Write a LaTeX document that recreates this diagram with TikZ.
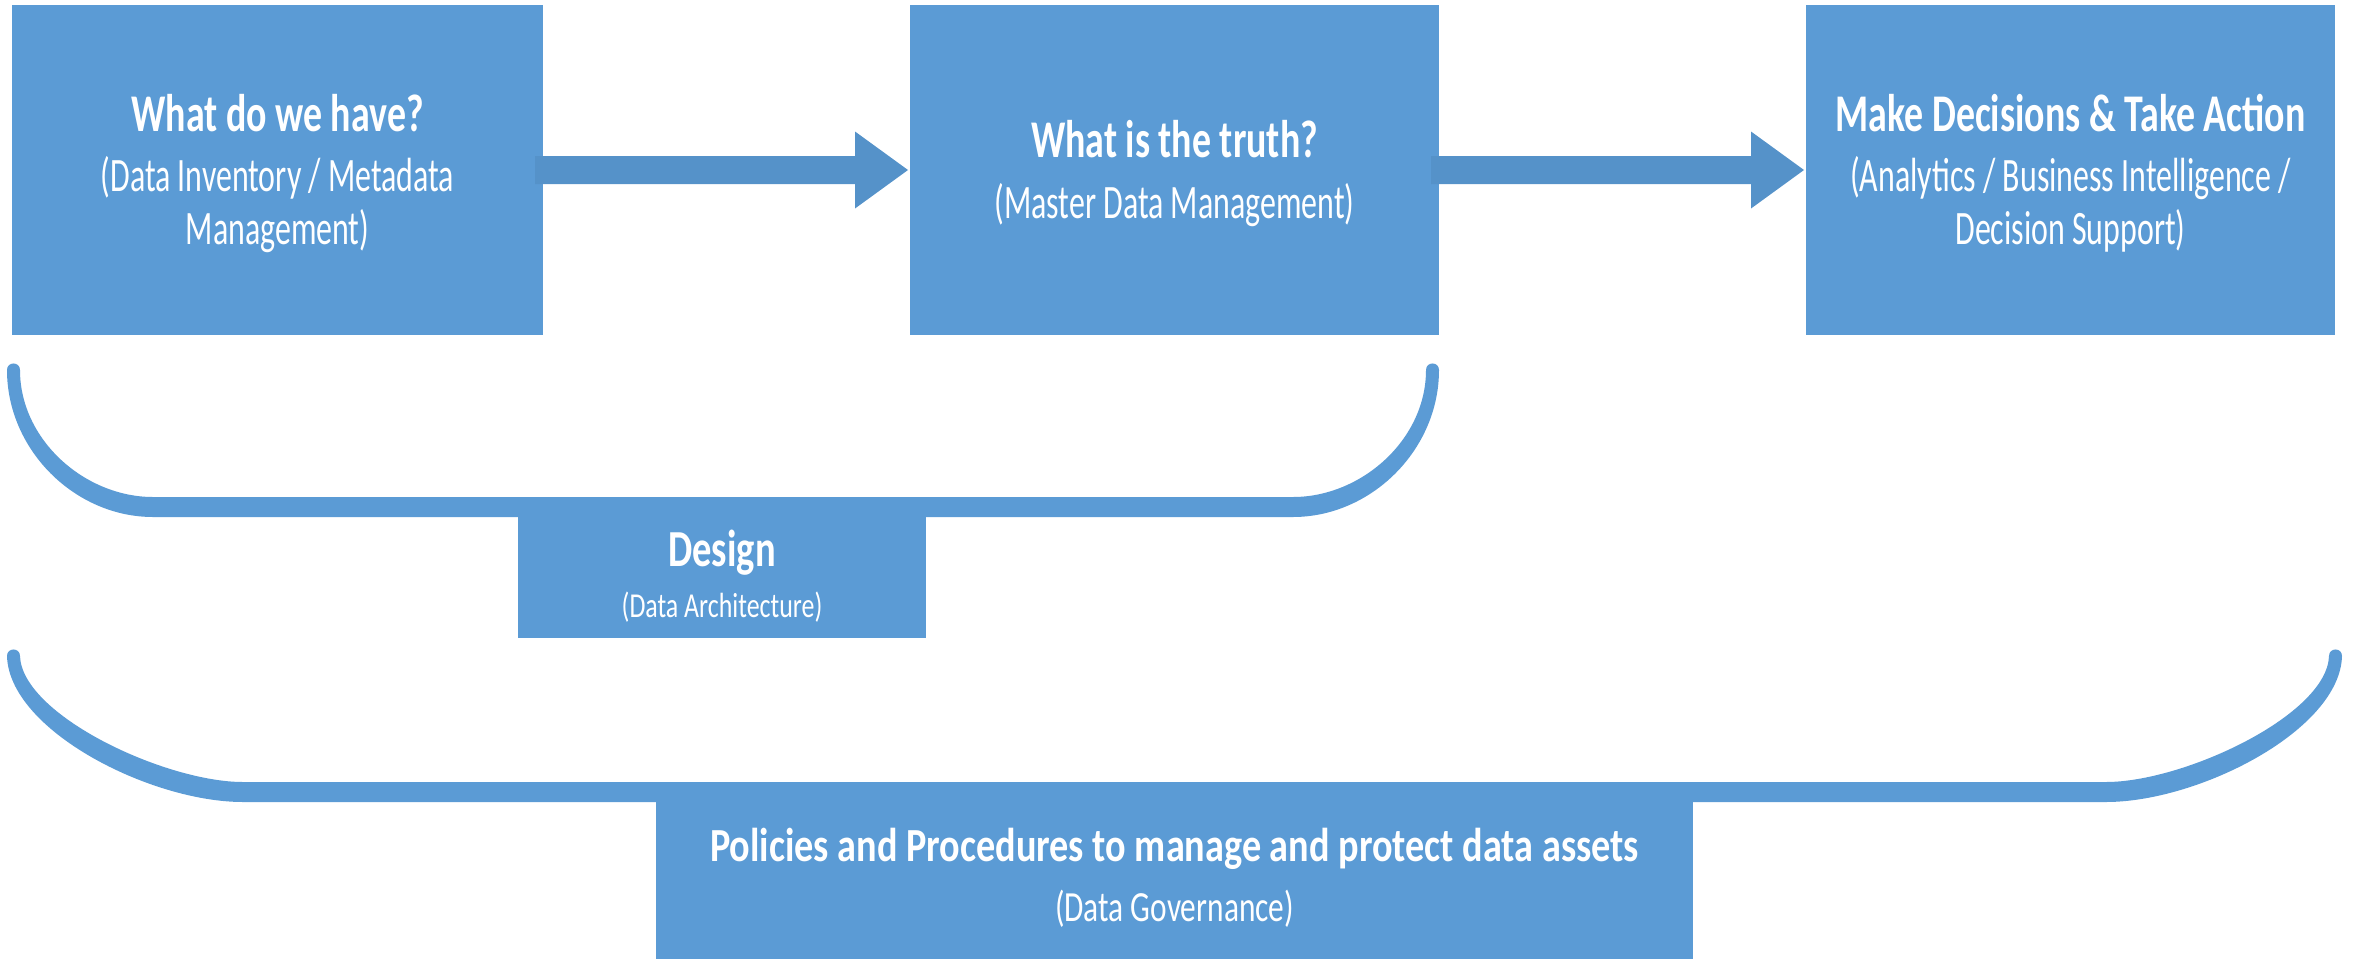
\documentclass[tikz,border=0pt]{standalone}
\usepackage{fontspec}
\usetikzlibrary{calc}
\newfontfamily\fTitle[FakeStretch=0.715]{Carlito}
\newfontfamily\fSub[FakeStretch=0.665]{Carlito}
\newfontfamily\fDesign[FakeStretch=0.74]{Carlito}
\newfontfamily\fGovT[FakeStretch=0.805]{Carlito}
\newfontfamily\fGovS[FakeStretch=0.73]{Carlito}
\definecolor{boxblue}{HTML}{5B9BD5}
\definecolor{arrowblue}{HTML}{5592C9}
\tikzset{
  block/.style={fill=boxblue, draw=none, inner sep=0pt, outer sep=0pt},
  ttl/.style={text=white, inner sep=0pt, anchor=base, font=\fTitle\bfseries\fontsize{53}{60}\selectfont},
  subt/.style={text=white, inner sep=0pt, anchor=base, font=\fSub\fontsize{48}{50}\selectfont},
  desttl/.style={text=white, inner sep=0pt, anchor=base, font=\fDesign\bfseries\fontsize{52}{60}\selectfont},
  dessub/.style={text=white, inner sep=0pt, anchor=base, font=\fDesign\fontsize{35}{40}\selectfont},
  govttl/.style={text=white, inner sep=0pt, anchor=base, font=\fGovT\bfseries\fontsize{47.5}{55}\selectfont},
  govsub/.style={text=white, inner sep=0pt, anchor=base, font=\fGovS\fontsize{43}{50}\selectfont},
  flow/.style={fill=arrowblue, draw=none},
  brace/.style={fill=boxblue, draw=none}
}
\begin{document}
\begin{tikzpicture}[x=1pt, y=-1pt]
\useasboundingbox (0,0) rectangle (2354,959);

% top row of process steps
\node[block, minimum width=531pt, minimum height=330pt] (b1) at (277.5,170) {};
\node[block, minimum width=529pt, minimum height=330pt] (b2) at (1174.5,170) {};
\node[block, minimum width=529pt, minimum height=330pt] (b3) at (2070.5,170) {};

\node[ttl]  (t1)  at (277.5,131) {What do we have?};
\node[subt] (s1a) at (277.5,191) {(Data Inventory / Metadata};
\node[subt] (s1b) at (277.5,244) {Management)};

\node[ttl]  (t2)  at (1174.5,157) {What is the truth?};
\node[subt] (s2a) at (1174.5,218) {(Master Data Management)};

\node[ttl]  (t3)  at (2070.5,131) {Make Decisions \& Take Action};
\node[subt] (s3a) at (2070.5,191) {(Analytics / Business Intelligence /};
\node[subt] (s3b) at (2070.5,244) {Decision Support)};

% block arrows between the steps
\fill[flow] ($(b1.east)+(-8,-14)$) -- ($(b2.west)+(-55,-14)$) -- ($(b2.west)+(-55,-38.5)$)
  -- ($(b2.west)+(-2,0)$) -- ($(b2.west)+(-55,38.5)$) -- ($(b2.west)+(-55,14)$)
  -- ($(b1.east)+(-8,14)$) -- cycle;
\fill[flow] ($(b2.east)+(-8,-14)$) -- ($(b3.west)+(-55,-14)$) -- ($(b3.west)+(-55,-38.5)$)
  -- ($(b3.west)+(-2,0)$) -- ($(b3.west)+(-55,38.5)$) -- ($(b3.west)+(-55,14)$)
  -- ($(b2.east)+(-8,14)$) -- cycle;

% bracket under the first two steps
\fill[brace] (7,370) .. controls (7,450) and (75,517) .. (153,517)
  -- (1293,517) .. controls (1371,517) and (1439,450) .. (1439,370)
  .. controls (1439,361.3) and (1426,361.3) .. (1426,370)
  .. controls (1426,440) and (1361,497) .. (1293,497)
  -- (153,497) .. controls (85,497) and (20,440) .. (20,370)
  .. controls (20,361.3) and (7,361.3) .. (7,370) -- cycle;

\node[block, minimum width=408pt, minimum height=121pt] (des) at (722,577.5) {};
\node[desttl] (dt) at (722,566) {Design};
\node[dessub] (ds) at (722,617) {(Data Architecture)};

% bracket under the whole flow
\fill[brace] (7,656) .. controls (9,730) and (150,802) .. (243,802)
  -- (2106,802) .. controls (2199,802) and (2340,730) .. (2342,656)
  .. controls (2342,647.3) and (2329,647.3) .. (2329,656)
  .. controls (2327,715) and (2184,782) .. (2106,782)
  -- (243,782) .. controls (165,782) and (22,715) .. (20,656)
  .. controls (20,647.3) and (7,647.3) .. (7,656) -- cycle;

\node[block, minimum width=1037pt, minimum height=157pt] (gov) at (1174.5,880.5) {};
\node[govttl] (gt) at (1174.5,861) {Policies and Procedures to manage and protect data assets};
\node[govsub] (gs) at (1174.5,921) {(Data Governance)};
\end{tikzpicture}
\end{document}
